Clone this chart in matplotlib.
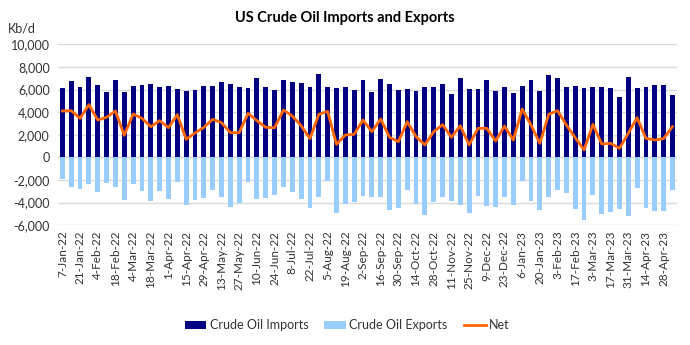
import matplotlib
matplotlib.use("Agg")
import matplotlib.pyplot as plt
import numpy as np
import pandas as pd
from matplotlib.ticker import FuncFormatter, MultipleLocator

plt.rcParams['font.family'] = ['Lato', 'DejaVu Sans']

weeks = pd.date_range('2022-01-07', periods=70, freq='7D')
week_labels = [f"{d.day}-{d:%b}-{d:%y}" for d in weeks]

imports = [6106, 6755, 6254, 7109, 6401, 5811, 6844, 5811, 6342, 6401,
           6519, 6254, 6313, 6018, 5870, 5959, 6342, 6313, 6637, 6520,
           6254, 6136, 6991, 6254, 5988, 6844, 6696, 6549, 6195, 7375,
           6195, 6136, 6195, 5929, 6814, 5782, 6962, 6460, 5929, 6077,
           5900, 6195, 6195, 6460, 5605, 7050, 6018, 6018, 6844, 5841,
           6224, 5723, 6342, 6844, 5900, 7316, 7050, 6224, 6342, 6165,
           6254, 6224, 6165, 5310, 7139, 6165, 6254, 6372, 6372, 5516]

exports = [-1941, -2588, -2765, -2353, -3059, -2235, -2647, -3794, -2382, -2941,
           -3824, -2971, -3676, -2147, -4235, -3735, -3588, -2882, -3529, -4353,
           -4000, -2206, -3706, -3559, -3353, -2588, -3029, -3706, -4529, -3471,
           -2088, -4971, -4147, -3941, -3412, -3471, -3529, -4647, -4529, -2853,
           -4118, -5088, -3971, -3529, -3824, -4220, -4941, -3412, -4294, -4353,
           -3471, -4176, -2088, -3882, -4706, -3471, -2853, -3118, -4588, -5588,
           -3294, -5000, -4882, -4588, -5235, -2706, -4529, -4794, -4765, -2853]

net = [4100, 4130, 3451, 4661, 3304, 3540, 4100, 1947, 3835, 3451,
       2714, 3245, 2625, 3776, 1593, 2153, 2655, 3363, 3068, 2183,
       2183, 3894, 3245, 2655, 2625, 4189, 3658, 2802, 1652, 3805,
       4071, 1150, 1976, 2035, 3304, 2271, 3392, 1770, 1386, 3156,
       1829, 1091, 2271, 2891, 1770, 2802, 1091, 2566, 2566, 1445,
       2773, 1534, 4277, 2861, 1239, 3805, 4130, 2861, 1740, 649,
       2920, 1180, 1239, 796, 2124, 3510, 1681, 1534, 1652, 2714]

C_IMP = '#000080'
C_EXP = '#99CCFF'
C_NET = '#FF6600'
C_GRID = '#D9D9D9'
C_TXT = '#000000'
C_LBL = '#333333'

fig = plt.figure(figsize=(6.9, 3.45), dpi=100)
ax = fig.add_axes([0.084, 0.3475, 0.897, 0.524])

x = np.arange(len(weeks))
h_imp = ax.bar(x, imports, width=0.55, color=C_IMP, label='Crude Oil Imports', zorder=3)
h_exp = ax.bar(x, exports, width=0.55, color=C_EXP, label='Crude Oil Exports', zorder=3)
h_net, = ax.plot(x, net, color=C_NET, lw=2.0, label='Net', zorder=4, solid_joinstyle='round')
ax.axhline(0, color=C_GRID, lw=1.0, zorder=2)

ax.set_xlim(-0.5, len(weeks) - 0.5)
ax.set_ylim(-6000, 10000)
ax.yaxis.set_major_locator(MultipleLocator(2000))
ax.yaxis.set_major_formatter(FuncFormatter(lambda v, p: f"{v:,.0f}"))
ax.grid(axis='y', color=C_GRID, lw=1.0, zorder=0)
ax.set_axisbelow(True)

ax.set_xticks(x[::2])
ax.set_xticklabels(week_labels[::2], rotation=90, fontsize=8.5, color=C_LBL)
ax.tick_params(axis='x', length=0, pad=4)
ax.tick_params(axis='y', length=0, labelsize=9, pad=6, labelcolor=C_LBL)
for s in ax.spines.values():
    s.set_visible(False)

fig.text(0.5, 0.948, 'US Crude Oil Imports and Exports', ha='center', va='center',
         fontsize=10.5, fontweight='bold', color=C_TXT)
fig.text(0.012, 0.918, 'Kb/d', ha='left', va='center', fontsize=9, color=C_LBL)

fig.legend(handles=[h_imp, h_exp, h_net],
           labels=['Crude Oil Imports', 'Crude Oil Exports', 'Net'],
           loc='center', bbox_to_anchor=(0.503, 0.058), ncol=3, frameon=False,
           fontsize=9, handlelength=1.75, handleheight=0.6, columnspacing=1.3,
           handletextpad=0.25, labelcolor=C_LBL)

fig.savefig('out.png', dpi=100)
